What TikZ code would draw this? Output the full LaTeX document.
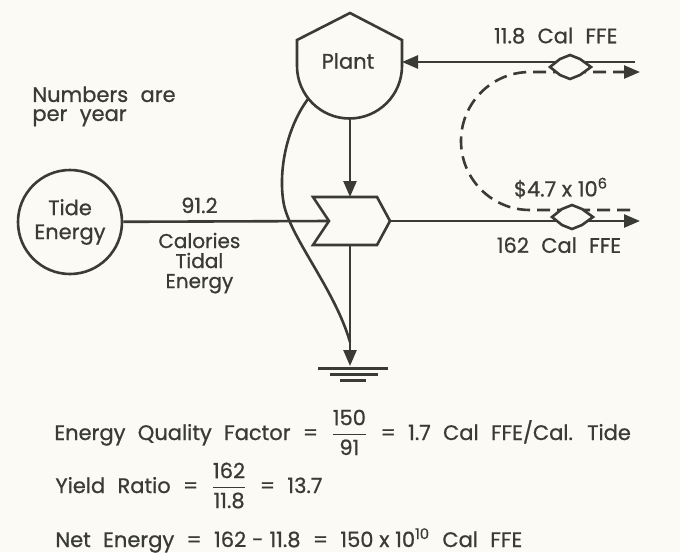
\documentclass[tikz,border=0pt]{standalone}
\usepackage{amsmath}
\usepackage{fontspec}
\setmainfont{Poppins}[WordSpace=2.2, FakeBold=0.8]
\usepackage{xcolor}
\usepackage{tikz}
\usetikzlibrary{positioning, arrows.meta}
\definecolor{paper}{RGB}{251,250,245}
\definecolor{ink}{RGB}{58,58,54}

\begin{document}
\begin{tikzpicture}[x=0.5pt, y=-0.5pt, font=\fontsize{10.5}{12}\selectfont,
  flow/.style={draw=ink, line width=1.3pt},
  arr/.style={flow, -{Triangle[length=8pt, width=6.5pt]}},
  money/.style={flow, dash pattern=on 6.5pt off 3.5pt},
  deal/.style={flow, fill=paper},
  lbl/.style={text=ink, inner sep=1pt, align=center}]
  \fill[paper] (0,0) rectangle (680,552);
  \useasboundingbox (0,0) rectangle (680,552);
  % plant and workgate symbols
  \draw[deal] (297,40) -- (350,13) -- (402,40) -- (402,66)
    arc[start angle=0, end angle=180, radius=52.5] -- cycle;
  \draw[deal] (313,197) -- (377,197) -- (390,221) -- (377,245) -- (313,245) -- (329,221) -- cycle;
  \node[lbl] (plant) at (348,61) {Plant};
  \node[lbl, draw=ink, line width=1.3pt, circle, minimum size=52pt] (tide) at (70,222) {Tide\\Energy};
  \coordinate (plantR) at (402,62);
  \coordinate (plantB) at (350,118);
  \coordinate (plantL) at (308,99);
  \coordinate (gateT) at (350,197);
  \coordinate (gateB) at (350,245);
  \coordinate (gateL) at (329,221);
  \coordinate (gateR) at (390,221);
  \coordinate (fuel) at (635,62);
  \coordinate (out) at (640,221);
  \coordinate (sink) at (350,366);
  \coordinate (sinkIn) at (350,342);
  \coordinate (payIn) at (630,210);
  \coordinate (payOut) at (640,72);
  % flows
  \draw[flow] (tide) -- node[lbl, above=2.5pt, pos=0.37] (tidal) {91.2}
    node[lbl, below=4pt, pos=0.37, font=\fontsize{10}{10}\selectfont] {Calories\\Tidal\\Energy} (gateL);
  \draw[arr] (fuel) -- node[lbl, above=7.5pt, pos=0.34] (fuelLbl) {11.8 Cal FFE} (plantR);
  \draw[arr] (plantB) -- (gateT);
  \draw[arr] (gateR) -- node[lbl, below=6.5pt, pos=0.676] (outLbl) {162 Cal FFE} (out);
  \draw[arr] (gateB) -- (sink);
  \draw[flow] (plantL) .. controls (285,130) and (278,175) .. (284,205)
    .. controls (292,240) and (335,290) .. (sinkIn);
  \draw[money, -{Triangle[length=8pt, width=6.5pt]}] (payIn) -- (530,210)
    arc[start angle=90, end angle=270, radius=69] -- (payOut);
  % transactions
  \draw[deal] (550,67) -- (560,59) -- (570,55) -- (580,59) -- (591,67) -- (580,75) -- (570,79) -- (560,75) -- cycle;
  \draw[deal] (552,217) -- (562,209) -- (572,205) -- (582,209) -- (593,217) -- (582,225) -- (572,229) -- (562,225) -- cycle;
  % heat sink
  \draw[ink, line width=1.5pt] (318,368) -- (388,368) (330,374) -- (378,374) (340,380) -- (366,380);
  % labels
  \node[lbl] (payLbl) at (561,188) {\$4.7\;x\;10\textsuperscript{6}};
  \node[lbl, align=left, anchor=north west, font=\fontsize{10.5}{9.5}\selectfont] (note) at (30,84) {Numbers are\\per year};
  \node[lbl, anchor=base west] (eqf) at (52,440) {Energy Quality Factor = $\dfrac{\text{150}}{\text{91}}$ = 1.7 Cal FFE/Cal. Tide};
  \node[lbl, anchor=base west] (yield) at (53,493) {Yield Ratio = $\dfrac{\text{162}}{\text{11.8}}$ = 13.7};
  \node[lbl, anchor=base west] (net) at (53,547) {Net Energy = 162\;-\;11.8 = 150\;x\;10\textsuperscript{10} Cal FFE};
\end{tikzpicture}
\end{document}
